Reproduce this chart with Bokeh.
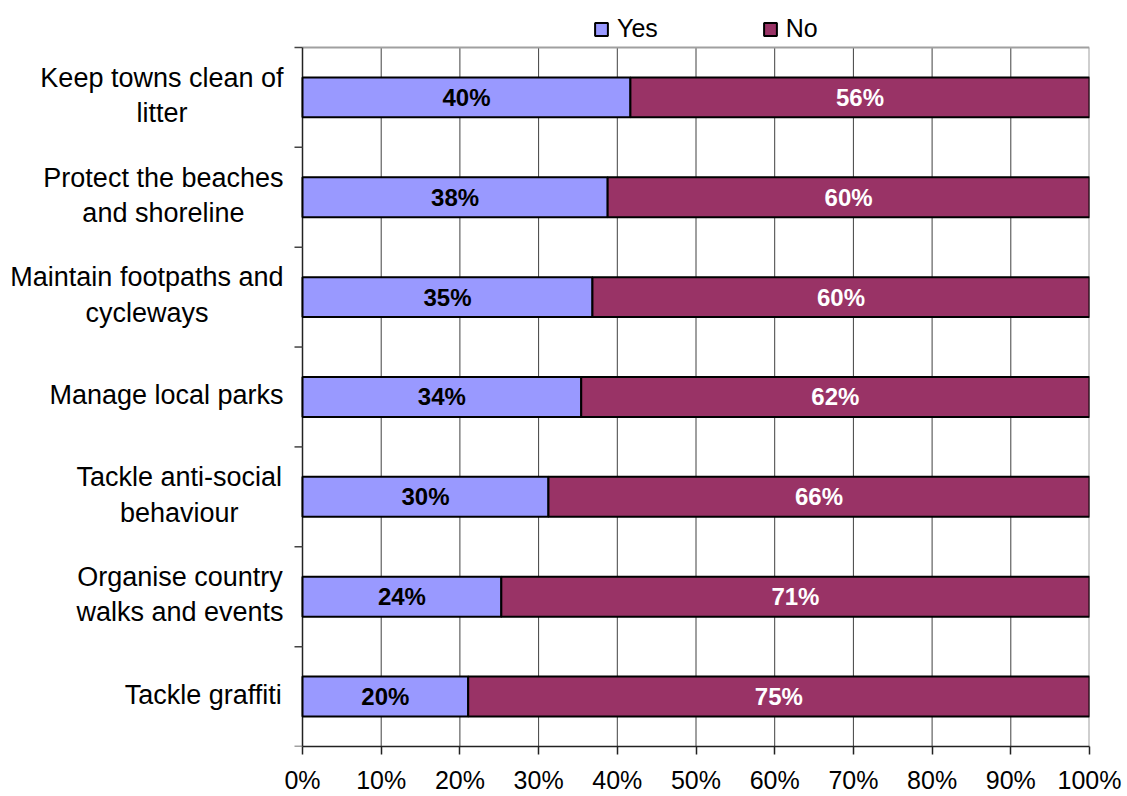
from bokeh.plotting import figure
from bokeh.models import Range1d, FixedTicker, Legend, LegendItem, ColumnDataSource
from bokeh.core.properties import value
from bokeh.embed import file_html
from bokeh.resources import INLINE

# ---------------- data ----------------
categories = [
    "Keep towns clean of\nlitter",
    "Protect the beaches\nand shoreline",
    "Maintain footpaths and\ncycleways",
    "Manage local parks",
    "Tackle anti-social\nbehaviour",
    "Organise country\nwalks and events",
    "Tackle graffiti",
]
yes = [40, 38, 35, 34, 30, 24, 20]
no = [56, 60, 60, 62, 66, 71, 75]
series = ["Yes", "No"]
colors = ["#9999FF", "#993366"]
x_ticks = [0, 10, 20, 30, 40, 50, 60, 70, 80, 90, 100]
x_tick_labels = ["0%", "10%", "20%", "30%", "40%", "50%", "60%", "70%", "80%", "90%", "100%"]

# ---------------- layout (pixels) ----------------
FONT = "Liberation Sans"
W, H = 1127, 796
PLOT_L, PLOT_R, PLOT_T, PLOT_B = 302, 1089, 47, 747   # plotting area inside the canvas
MR = W - PLOT_R
MB = H - PLOT_B
n = len(categories)
PX_X = (PLOT_R - PLOT_L) / 100.0      # pixels per x unit
PX_Y = (PLOT_B - PLOT_T) / n          # pixels per row

x_start = -PLOT_L / PX_X
y_end = n + PLOT_T / PX_Y
x_min, x_max = x_ticks[0], x_ticks[-1]

ypos = [n - i - 0.5 for i in range(n)]
totals = [a + b for a, b in zip(yes, no)]
yes_end = [100.0 * a / t for a, t in zip(yes, totals)]

src = ColumnDataSource(dict(
    y=ypos,
    zero=[0.0] * n,
    full=[100.0] * n,
    yes_end=yes_end,
    yes_mid=[e / 2 for e in yes_end],
    no_mid=[(e + 100.0) / 2 for e in yes_end],
    yes_lbl=[f"{v}%" for v in yes],
    no_lbl=[f"{v}%" for v in no],
))

p = figure(width=W, height=H, x_range=Range1d(x_start, x_max), y_range=Range1d(0, y_end),
           output_backend="svg", toolbar_location=None, y_axis_location=None,
           min_border_left=0, min_border_right=MR, min_border_top=0, min_border_bottom=MB)
p.background_fill_color = "white"
p.border_fill_color = "white"
p.outline_line_color = None
p.xgrid.grid_line_color = None
p.ygrid.grid_line_color = None

# vertical grid lines inside the plotting area
inner = x_ticks[1:-1]
p.segment(x0=inner, y0=[0] * len(inner), x1=inner, y1=[n] * len(inner),
          line_color="#404040", line_width=1)
# plot-area border: top and right grey
p.segment(x0=[x_min, x_max], y0=[n, 0], x1=[x_max, x_max], y1=[n, n],
          line_color="#a0a0a0", line_width=2)
# category axis: line + outward tick marks at row boundaries
p.segment(x0=[x_min], y0=[0], x1=[x_min], y1=[n], line_color="#222222", line_width=1.5)
bounds = list(range(n + 1))
p.segment(x0=[x_min - 8 / PX_X] * len(bounds), y0=bounds, x1=[x_min] * len(bounds), y1=bounds,
          line_color="#444444", line_width=1.5)

r_yes = p.hbar(y="y", left="zero", right="yes_end", height=0.4, source=src,
               fill_color=colors[0], line_color="black", line_width=2)
r_no = p.hbar(y="y", left="yes_end", right="full", height=0.4, source=src,
              fill_color=colors[1], line_color="black", line_width=2)

p.text(x="yes_mid", y="y", text="yes_lbl", source=src, text_font=value(FONT),
       text_font_style="bold", text_font_size="24px", text_align="center",
       text_baseline="middle", text_color="black")
p.text(x="no_mid", y="y", text="no_lbl", source=src, text_font=value(FONT),
       text_font_style="bold", text_font_size="24px", text_align="center",
       text_baseline="middle", text_color="white")

# x axis
p.xaxis.bounds = (x_min, x_max)
p.xaxis.ticker = FixedTicker(ticks=x_ticks, minor_ticks=[])
p.xaxis.major_label_overrides = {t: l for t, l in zip(x_ticks, x_tick_labels)}
p.xaxis.major_label_text_font = FONT
p.xaxis.major_label_text_font_size = "25px"
p.xaxis.major_label_text_color = "black"
p.xaxis.major_label_standoff = 11
p.xaxis.major_tick_out = 8
p.xaxis.major_tick_in = 0
p.xaxis.axis_line_color = "#222222"
p.xaxis.axis_line_width = 1.5
p.xaxis.major_tick_line_color = "#222222"
p.xaxis.major_tick_line_width = 1.5

# category labels: lines centred within a right-aligned block
CW = {' ': 278, '-': 333, 'a': 556, 'b': 556, 'c': 500, 'd': 556, 'e': 556, 'f': 278,
      'g': 556, 'h': 556, 'i': 222, 'j': 222, 'k': 500, 'l': 222, 'm': 833, 'n': 556,
      'o': 556, 'p': 556, 'q': 556, 'r': 333, 's': 500, 't': 278, 'u': 556, 'v': 500,
      'w': 722, 'x': 500, 'y': 500, 'z': 500, 'K': 667, 'P': 667, 'M': 833, 'T': 611,
      'O': 778}
CAT_SIZE = 27


def text_w(s):
    return sum(CW.get(ch, 600) for ch in s) / 1000.0 * CAT_SIZE


LINE_STEP = 35.5 / PX_Y
lx, ly, lt = [], [], []
for yc, cat in zip(ypos, categories):
    lines = cat.split("\n")
    wmax = max(text_w(s) for s in lines)
    xc = -(19 + wmax / 2) / PX_X
    k = len(lines)
    for j, s in enumerate(lines):
        lx.append(xc)
        ly.append(yc + ((k - 1) / 2 - j) * LINE_STEP + 2 / PX_Y)
        lt.append(s)
p.text(x=lx, y=ly, text=lt, text_font=value(FONT), text_font_size=f"{CAT_SIZE}px",
       text_align="center", text_baseline="middle", text_color="black")

legend = Legend(items=[LegendItem(label=series[0], renderers=[r_yes]),
                       LegendItem(label=series[1], renderers=[r_no])],
                orientation="horizontal", location=(593, PLOT_B - 44),
                glyph_width=16, glyph_height=16, label_standoff=8, spacing=104,
                padding=0, margin=0, border_line_color=None,
                background_fill_alpha=0, label_text_font=FONT,
                label_text_font_size="25px", label_text_color="black")
p.add_layout(legend)

open("out.html", "w").write(file_html(p, INLINE))
